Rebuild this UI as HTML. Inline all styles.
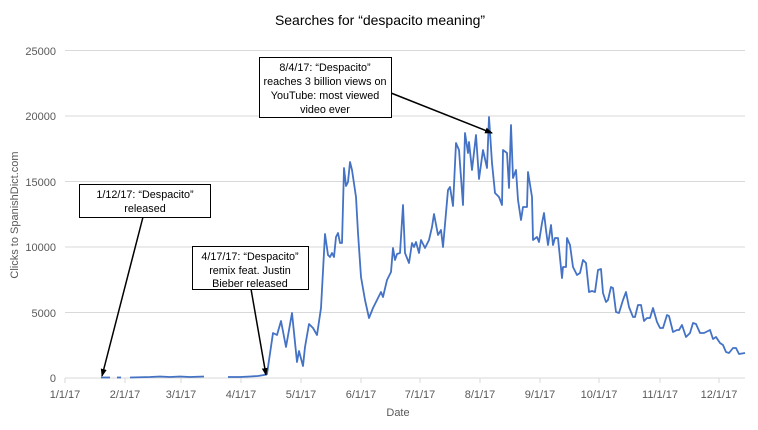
<!DOCTYPE html>
<html><head><meta charset="utf-8"><style>
body{margin:0;background:#fff}
svg{display:block;font-family:"Liberation Sans",sans-serif}
</style></head><body>
<svg width="758" height="430" viewBox="0 0 758 430">
<defs><marker id="ah" markerWidth="8" markerHeight="8" refX="7" refY="4" orient="auto" markerUnits="userSpaceOnUse"><path d="M0,1 L8,4 L0,7 z" fill="#000"/></marker></defs>
<text x="380" y="25" text-anchor="middle" font-size="14" fill="#000">Searches for “despacito meaning”</text>
<g stroke="#d9d9d9" stroke-width="1">
<line x1="65" y1="50.5" x2="745" y2="50.5"/><line x1="65" y1="116" x2="745" y2="116"/><line x1="65" y1="181.5" x2="745" y2="181.5"/><line x1="65" y1="247" x2="745" y2="247"/><line x1="65" y1="312.5" x2="745" y2="312.5"/><line x1="65" y1="378" x2="745" y2="378"/>
<line x1="65" y1="378" x2="65" y2="383"/><line x1="125" y1="378" x2="125" y2="383"/><line x1="181" y1="378" x2="181" y2="383"/><line x1="241" y1="378" x2="241" y2="383"/><line x1="301" y1="378" x2="301" y2="383"/><line x1="361" y1="378" x2="361" y2="383"/><line x1="420" y1="378" x2="420" y2="383"/><line x1="480" y1="378" x2="480" y2="383"/><line x1="540" y1="378" x2="540" y2="383"/><line x1="599" y1="378" x2="599" y2="383"/><line x1="660" y1="378" x2="660" y2="383"/><line x1="719" y1="378" x2="719" y2="383"/>
</g>
<g font-size="11" fill="#595959" text-anchor="end">
<text x="56" y="382">0</text><text x="56" y="317">5000</text><text x="56" y="251">10000</text><text x="56" y="186">15000</text><text x="56" y="120">20000</text><text x="56" y="55">25000</text>
</g>
<g font-size="11" fill="#595959" text-anchor="middle">
<text x="65" y="398">1/1/17</text><text x="125" y="398">2/1/17</text><text x="181" y="398">3/1/17</text><text x="241" y="398">4/1/17</text><text x="301" y="398">5/1/17</text><text x="361" y="398">6/1/17</text><text x="420" y="398">7/1/17</text><text x="480" y="398">8/1/17</text><text x="540" y="398">9/1/17</text><text x="599" y="398">10/1/17</text><text x="660" y="398">11/1/17</text><text x="719" y="398">12/1/17</text>
<text x="398" y="416">Date</text>
<text transform="translate(18,215) rotate(-90)">Clicks to SpanishDict.com</text>
</g>
<g fill="none" stroke="#4472c4" stroke-width="1.8" stroke-linejoin="round">
<polyline points="101,377.5 110,377.5"/><polyline points="117,377.5 121,377.5"/>
<polyline points="130,377.5 150,377 160,376.5 170,377 180,376.5 190,377 204,376.5"/>
<polyline points="228,377 240,377 250,376.5 258,376 264,375 267,374 273,333 277,335 281,321 286,347 292,313 297,362 299,351 303,366 305,347 309,324 313,328 317,335 321,308 325,234 328,255 330,257 332,253 334,257 336,237 338,233 340,243 342,243 344,168 346,186 348,182 350,162 352,170 356,197 358,233 361,277 365,300 369,318 373,308 377,300 381,292 383,297 387,280 391,272 393,248 395,260 397,254 400,253 403,205 405,253 409,263 412,243 414,247 416,242 419,253 421,240 425,248 429,240 432,227 434,214 438,235 441,230 443,247 448,190 450,187 453,206 456,143 459,150 463,205 465,133 468,153 469,142 472,170 476,135 479,179 483,150 487,168 489,117 492,163 495,193 499,197 502,205 503,150 507,153 509,188 511,125 513,178 516,170 518,200 521,220 523,207 527,207 528,172 532,197 533,240 537,237 539,242 542,223 544,213 546,230 548,245 551,225 553,245 555,238 558,238 562,278 563,267 566,267 567,238 570,245 573,267 577,275 580,273 583,260 586,263 589,292 592,291 595,292 598,270 601,269 603,293 606,302 608,300 611,287 613,288 616,312 619,313 623,300 626,292 629,307 633,317 635,317 638,305 641,305 644,321 647,318 650,318 653,308 657,322 660,328 663,328 667,315 669,316 673,332 677,330 679,330 682,325 686,337 690,333 693,323 696,324 700,333 704,333 710,330 713,339 716,337 720,343 723,345 726,352 729,353 733,348 736,348 739,354 745,353"/>
</g>
<g stroke="#000" stroke-width="1.5">
<line x1="143" y1="217" x2="102" y2="376" marker-end="url(#ah)"/>
<line x1="251" y1="289" x2="266" y2="375" marker-end="url(#ah)"/>
<line x1="391" y1="93" x2="492" y2="133" marker-end="url(#ah)"/>
</g>
<g fill="#fff" stroke="#000" stroke-width="1">
<rect x="79.5" y="184.5" width="131" height="33"/>
<rect x="192.5" y="246.5" width="116" height="43"/>
<rect x="259.5" y="57.5" width="132" height="60"/>
</g>
<g font-size="10.8" fill="#000" text-anchor="middle">
<text x="145" y="198">1/12/17: “Despacito”</text><text x="145" y="212">released</text>
<text x="250" y="260">4/17/17: “Despacito”</text><text x="250" y="274">remix feat. Justin</text><text x="250" y="287">Bieber released</text>
<text x="325" y="71">8/4/17: “Despacito”</text><text x="325" y="85">reaches 3 billion views on</text><text x="325" y="99">YouTube: most viewed</text><text x="325" y="113">video ever</text>
</g>
</svg>
</body></html>
